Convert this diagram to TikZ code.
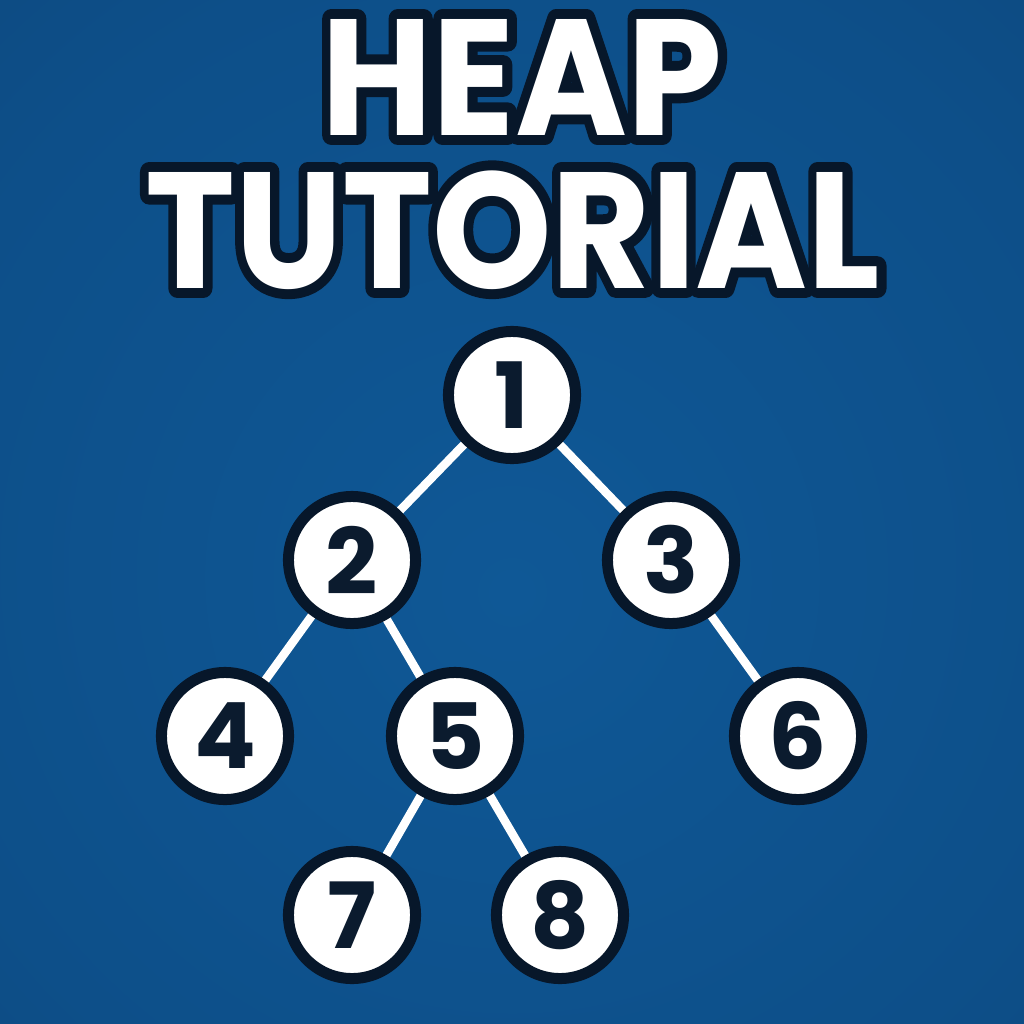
\documentclass[tikz,border=0pt]{standalone}
\usepackage{fontspec}
\usetikzlibrary{positioning}
\setmainfont{Poppins}
\newfontfamily\inkfont{Poppins}[BoldFeatures={FakeBold=12}]
\definecolor{Ink}{HTML}{07172A}
\definecolor{Digit}{HTML}{0B1B2E}
\definecolor{BgIn}{HTML}{0F5896}
\definecolor{BgMid}{HTML}{0D4F89}
\definecolor{BgOut}{HTML}{0A3B69}
\pgfdeclarelayer{backdrop}\pgfdeclarelayer{links}\pgfsetlayers{backdrop,links,main}
\pgfdeclareradialshading{glow}{\pgfpoint{0bp}{-4bp}}{color(0bp)=(BgIn);color(30bp)=(BgMid);color(72bp)=(BgOut)}
\tikzset{heapnode/.style={circle,draw=Ink,line width=.11cm,fill=white,minimum size=1.27cm,inner sep=0pt,font=\fontsize{26}{26}\selectfont\bfseries,text=Digit},link/.style={draw=white,line width=.085cm},title/.style={font=\fontsize{47}{47}\selectfont\bfseries,text=white,inner sep=0pt,anchor=base},titleink/.style={title,font=\fontsize{47}{47}\selectfont\inkfont\bfseries,text=Ink,line join=round}}
\begin{document}
\begin{tikzpicture}[x=.01cm,y=-.01cm]
      \begin{pgfonlayer}{backdrop}
        \shade[shading=glow](0,0)rectangle(1024,1024);
      \end{pgfonlayer}
      \useasboundingbox(0,0)rectangle(1024,1024);
      % outlined title: dark emboldened copy under the white text
      \node[titleink](heapink)at(522,135){\scalebox{.92}[1]{HEAP}};
      \node[title](heap)at(522,135){\scalebox{.92}[1]{HEAP}};
      \node[titleink](tutorialink)at(513,288){\scalebox{.92}[1]{TUTORIAL}};
      \node[title](tutorial)at(513,288){\scalebox{.92}[1]{TUTORIAL}};
      \node[heapnode](n1)at(512,395){1};
      \node[heapnode](n2)at(352,560){2};
      \node[heapnode](n3)at(671,560){3};
      \node[heapnode](n4)at(225,736){4};
      \node[heapnode](n5)at(455,736){5};
      \node[heapnode](n6)at(798,736){6};
      \node[heapnode](n7)at(352,915){7};
      \node[heapnode](n8)at(560,915){8};
      \begin{pgfonlayer}{links}
        \draw[link](n1.center)--(n2.center);\draw[link](n1.center)--(n3.center);\draw[link](n2.center)--(n4.center);\draw[link](n2.center)--(n5.center);
        \draw[link](n3.center)--(n6.center);\draw[link](n5.center)--(n7.center);\draw[link](n5.center)--(n8.center);
      \end{pgfonlayer}
    \end{tikzpicture}
\end{document}
